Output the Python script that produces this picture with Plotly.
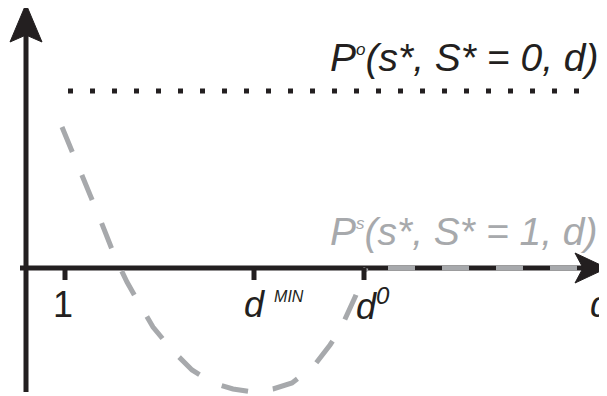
import plotly.graph_objects as go

# colours used in the figure
black = "#231f20"
gray = "#a7a9ac"

# dotted reference level P^o
dotted_d = [68, 596]
dotted_p = [177, 177]

# dashed curve P^s (drops below zero to d0) ...
curve_d = [62, 75, 90, 100, 115, 127, 140, 153, 172, 192, 213, 233, 253, 273, 292, 313, 330, 340, 356, 366]
curve_p = [141, 110, 73, 49, 11, -14, -37, -59, -82, -102, -115, -121, -124, -121, -115, -99, -77, -62, -27, 0]
# ... and then runs along the axis
flat_d = [388, 580]
flat_p = [0, 0]

# tick positions and labels on the d axis
tick_vals = [65, 254, 364]
tick_text = ["1",
             "<i>d</i> <sup><span style='font-size:16px'><i>MIN</i></span></sup>",
             "<i>d</i><sup><span style='font-size:24px'><i>0</i></span></sup>"]
tick_shift = [-2, 20, 9]

fig = go.Figure()

fig.add_trace(go.Scatter(x=dotted_d, y=dotted_p, mode="lines",
                         line=dict(color=black, width=5, dash="5px,17px"), hoverinfo="skip"))
fig.add_trace(go.Scatter(x=curve_d, y=curve_p, mode="lines",
                         line=dict(color=gray, width=5, dash="27px,25px"),
                         hoverinfo="skip"))
fig.add_trace(go.Scatter(x=flat_d, y=flat_p, mode="lines",
                         line=dict(color=gray, width=5, dash="27px,27px"),
                         hoverinfo="skip"))

shapes = []
# axes lines
shapes.append(dict(type="line", x0=20, y0=0, x1=590, y1=0, line=dict(color=black, width=5), layer="below"))
shapes.append(dict(type="line", x0=26, y0=-124, x1=26, y1=240, line=dict(color=black, width=5), layer="below"))
# arrow heads
shapes.append(dict(type="path", path="M 26,264 L 10,226 L 26,233 L 42,226 Z",
                   fillcolor=black, line=dict(color=black, width=1), layer="above"))
shapes.append(dict(type="path", path="M 607,0 L 575,15 L 583,0 L 575,-15 Z",
                   fillcolor=black, line=dict(color=black, width=1), layer="above"))
# ticks
for t in tick_vals:
    shapes.append(dict(type="line", x0=t, y0=0, x1=t, y1=-12, line=dict(color=black, width=5), layer="above"))

annotations = []
font = dict(family="Liberation Sans, Arial", size=36, color=black)
for t, s, dx in zip(tick_vals, tick_text, tick_shift):
    annotations.append(dict(x=t + dx, y=-36, text=s, showarrow=False,
                            xanchor="center", yanchor="middle", font=font))
annotations.append(dict(x=588, y=-36, text="<i>d</i>", showarrow=False, xanchor="left", yanchor="middle", font=font))
annotations.append(dict(x=601, y=211, text="<i>P<sup><span style='font-size:17px'>o</span></sup>(s*, S* = 0, d)</i>",
                        showarrow=False, xanchor="right", yanchor="middle",
                        font=dict(family="Liberation Sans, Arial", size=39, color=black)))
annotations.append(dict(x=600, y=37, text="<i>P<sup><span style='font-size:17px'>s</span></sup>(s*, S* = 1, d)</i>",
                        showarrow=False, xanchor="right", yanchor="middle",
                        font=dict(family="Liberation Sans, Arial", size=39, color=gray)))

# the page puts the plot 8px in from the top-left corner, so the ranges are offset by 8px
fig.update_layout(
    width=607, height=396,
    margin=dict(l=0, r=0, t=0, b=0),
    paper_bgcolor="white", plot_bgcolor="white",
    showlegend=False,
    shapes=shapes, annotations=annotations,
    xaxis=dict(range=[8, 615], visible=False, fixedrange=True),
    yaxis=dict(range=[-136, 260], visible=False, fixedrange=True),
)

fig.write_html("out.html")
